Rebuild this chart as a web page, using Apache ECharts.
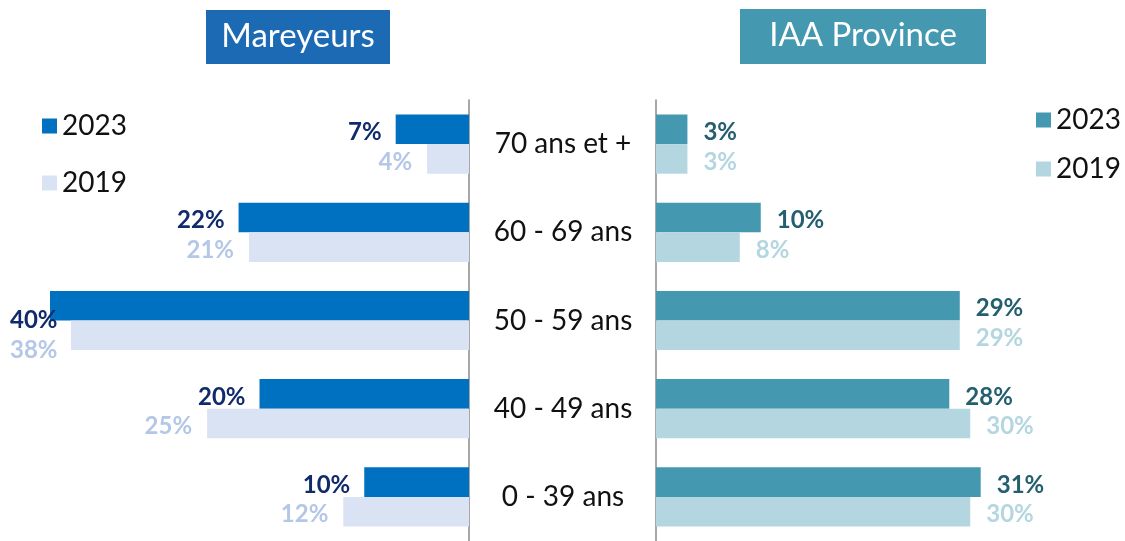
<!DOCTYPE html>
<html>
<head>
<meta charset="utf-8">
<script src="https://cdn.jsdelivr.net/npm/echarts@6/dist/echarts.min.js"></script>
<style>
  html, body { margin: 0; padding: 0; background: #fff; }
  #main { width: 1125px; height: 541px; }
</style>
</head>
<body>
<div id="main"></div>
<script>
var categories = ['70 ans et +', '60 - 69 ans', '50 - 59 ans', '40 - 49 ans', '0 - 39 ans'];
var mareyeurs2023 = [7, 22, 40, 20, 10];
var mareyeurs2019 = [4, 21, 38, 25, 12];
var iaa2023 = [3, 10, 29, 28, 31];
var iaa2019 = [3, 8, 29, 30, 30];
var legendNames = ['2023', '2019'];

var font = 'Lato';
var myChart = echarts.init(document.getElementById('main'));

// labels trop à gauche : on les recale au bord
function clampLeft(p) {
    if (p.labelRect.x < 10) {
        return { x: 10, align: 'left', dy: 3 };
    }
    return { dy: 3 };
}

function pct(p) { return p.value + '%'; }

option = {
    textStyle: { fontFamily: font },
    graphic: [
        { type: 'rect', shape: { x: 206, y: 10, width: 184, height: 54 }, style: { fill: '#1c6ab4' } },
        { type: 'text', x: 298, y: 36, style: { text: 'Mareyeurs', fill: '#fff', font: '33px ' + font, textAlign: 'center', textVerticalAlign: 'middle' } },
        { type: 'rect', shape: { x: 740, y: 9, width: 246, height: 55 }, style: { fill: '#4499b0' } },
        { type: 'text', x: 863, y: 35, style: { text: 'IAA Province', fill: '#fff', font: '33px ' + font, textAlign: 'center', textVerticalAlign: 'middle' } }
    ],
    legend: [
        {
            orient: 'vertical', left: 37, top: 107, itemWidth: 15, itemHeight: 15, itemGap: 29,
            icon: 'rect', selectedMode: false,
            textStyle: { fontSize: 28, color: '#111', fontFamily: font },
            data: [
                { name: legendNames[0], itemStyle: { color: '#0070c0' } },
                { name: legendNames[1], itemStyle: { color: '#dae3f3' } }
            ]
        },
        {
            orient: 'vertical', left: 1031, top: 101, itemWidth: 15, itemHeight: 15, itemGap: 21,
            icon: 'rect', selectedMode: false,
            textStyle: { fontSize: 28, color: '#111', fontFamily: font },
            data: [
                { name: legendNames[0], itemStyle: { color: '#4499b0' } },
                { name: legendNames[1], itemStyle: { color: '#b4d6e1' } }
            ]
        }
    ],
    grid: [
        { left: 50, width: 419, top: 100, height: 444.5 },
        { left: 656, width: 419, top: 100, height: 444.5 }
    ],
    xAxis: [
        { gridIndex: 0, type: 'value', min: 0, max: 40, inverse: true, show: false },
        { gridIndex: 1, type: 'value', min: 0, max: 40, show: false }
    ],
    yAxis: [
        {
            gridIndex: 0, type: 'category', data: categories, inverse: true, position: 'right',
            axisLine: { lineStyle: { color: '#8a8a8a', width: 1.5 } },
            axisTick: { show: false },
            axisLabel: { margin: 94, align: 'center', fontSize: 28, color: '#111', fontFamily: font, padding: [5, 0, 0, 0] }
        },
        {
            gridIndex: 1, type: 'category', data: categories, inverse: true, position: 'left',
            axisLine: { lineStyle: { color: '#8a8a8a', width: 1.5 } },
            axisTick: { show: false },
            axisLabel: { show: false }
        }
    ],
    series: [
        {
            name: legendNames[0], type: 'bar', xAxisIndex: 0, yAxisIndex: 0,
            data: mareyeurs2023, barWidth: 29.6, barGap: '0%',
            itemStyle: { color: '#0070c0' },
            label: { show: true, position: 'left', distance: 14, formatter: pct, color: '#102a6b', fontWeight: 'bold', fontSize: 24 },
            labelLayout: clampLeft
        },
        {
            name: legendNames[1], type: 'bar', xAxisIndex: 0, yAxisIndex: 0,
            data: mareyeurs2019, barWidth: 29.6, barGap: '0%',
            itemStyle: { color: '#dae3f3' },
            label: { show: true, position: 'left', distance: 15, formatter: pct, color: '#b4c7e7', fontWeight: 'bold', fontSize: 24 },
            labelLayout: clampLeft
        },
        {
            name: legendNames[0], type: 'bar', xAxisIndex: 1, yAxisIndex: 1,
            data: iaa2023, barWidth: 29.6, barGap: '0%',
            itemStyle: { color: '#4499b0' },
            label: { show: true, position: 'right', distance: 16, offset: [0, 3], formatter: pct, color: '#235f6f', fontWeight: 'bold', fontSize: 24 }
        },
        {
            name: legendNames[1], type: 'bar', xAxisIndex: 1, yAxisIndex: 1,
            data: iaa2019, barWidth: 29.6, barGap: '0%',
            itemStyle: { color: '#b4d6e1' },
            label: { show: true, position: 'right', distance: 16, offset: [0, 3], formatter: pct, color: '#b4d6e1', fontWeight: 'bold', fontSize: 24 }
        }
    ]
};
myChart.setOption(option);
</script>
</body>
</html>
